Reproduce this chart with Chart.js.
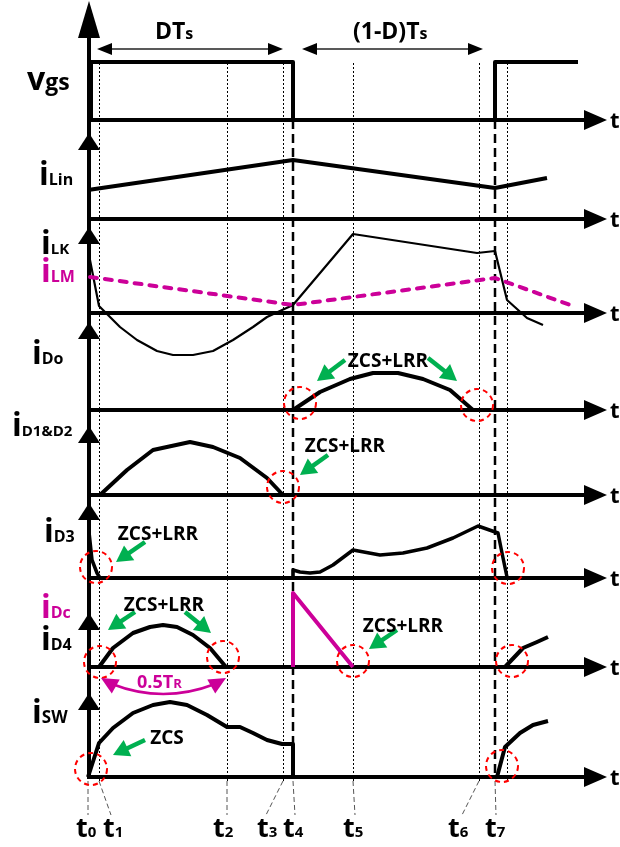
<!DOCTYPE html>
<html><head><meta charset="utf-8">
<script src="https://cdn.jsdelivr.net/npm/chart.js@4.4.1/dist/chart.umd.min.js"></script>
<style>html,body{margin:0;padding:0;background:#fff;overflow:hidden}#wrap{width:620px;height:847px;position:relative}</style>
</head><body><div id="wrap"><canvas id="c" width="620" height="847"></canvas></div>
<script>
// ================= DATA (time in drawing units, t0 = 0; values = height above each trace's zero line) =================
const timeSubs  = ['0','1','2','3','4','5','6','7'];
const timeMarks = [0, 11, 139, 195, 205, 265, 391, 407];
const nextT1 = 419;

const vgsT  = [0, 3, 3, 205, 205, 407, 407, 490];
const vgsV  = [0, 0, 58, 58, 0, 0, 58, 58];
const iLinT = [0, 205, 407, 459];
const iLinV = [29, 59, 31, 41];
const iLkT  = [1, 11, 32, 49, 69, 85, 105, 125, 145, 165, 179, 205, 265, 389, 407, 419, 439, 455];
const iLkV  = [58, 7, -14, -27, -38, -42, -42, -38, -27, -14, -4, 8, 79, 60, 62, 13, -5, -12];
const iLmT  = [2, 205, 407, 485];
const iLmV  = [36, 8, 35, 7];
const iDoT  = [205, 232, 262, 285, 310, 335, 362, 385];
const iDoV  = [0, 18, 31, 37, 37, 31, 20, 0];
const iD12T = [12, 39, 65, 102, 125, 152, 179, 195];
const iD12V = [0, 25, 45, 53, 48, 37, 17, 0];
const iD3aT = [1, 4, 9, 12];
const iD3aV = [46, 18, 5, 0];
const iD3bT = [205, 205, 212, 222, 232, 245, 265, 292, 315, 339, 365, 390, 410, 414, 419];
const iD3bV = [0, 8, 6, 5, 6, 13, 28, 23, 25, 30, 40, 52, 45, 25, 1];
const iDcT  = [205, 205, 265];
const iDcV  = [0, 74, 0];
const iD4aT = [11, 25, 45, 62, 75, 89, 105, 122, 138];
const iD4aV = [0, 19, 34, 40, 42, 40, 32, 19, 0];
const iD4bT = [417, 435, 449, 460];
const iD4bV = [0, 19, 25, 30];
const iSwaT = [0, 11, 25, 45, 65, 82, 99, 119, 139, 152, 165, 179, 194, 205, 205];
const iSwaV = [0, 34, 49, 64, 72, 75, 72, 62, 50, 50, 44, 37, 33, 33, 0];
const iSwbT = [409, 417, 432, 445, 460];
const iSwbV = [0, 30, 44, 52, 56];

// ================= LAYOUT / STYLE =================
const lanes = {vgs:120, iLin:219, iLK:313, iDo:410, iD12:495, iD3:578, iD4:667, iSW:777};
const BLACK = '#000', MAG = '#cc0099', GREEN = '#00b050', RED = '#ff0000';
const FONT = '"Open Sans", "DejaVu Sans", sans-serif';

function pts(ts, vs, lane){ return ts.map((t,i)=>({x:t, y: lane - vs[i]})); }
function ds(ts, vs, lane, color, width, dash){
  return {data: pts(ts, vs, lane), showLine:true, borderColor:color, backgroundColor:color,
    borderWidth:width, pointRadius:0, tension:0, fill:false, borderDash: dash || [],
    borderJoinStyle:'round', borderCapStyle: dash ? 'round' : 'butt'};
}

const datasets = [
  ds(vgsT, vgsV, lanes.vgs, BLACK, 4),
  ds(iLinT, iLinV, lanes.iLin, BLACK, 4),
  ds(iLmT, iLmV, lanes.iLK, MAG, 4, [7, 8]),
  ds(iLkT, iLkV, lanes.iLK, BLACK, 2.2),
  ds(iDoT, iDoV, lanes.iDo, BLACK, 4),
  ds(iD12T, iD12V, lanes.iD12, BLACK, 4),
  ds(iD3aT, iD3aV, lanes.iD3, BLACK, 3.5),
  ds(iD3bT, iD3bV, lanes.iD3, BLACK, 3.5),
  ds(iD4aT, iD4aV, lanes.iD4, BLACK, 4),
  ds(iD4bT, iD4bV, lanes.iD4, BLACK, 4),
  ds(iDcT, iDcV, lanes.iD4, MAG, 4),
  ds(iSwaT, iSwaV, lanes.iSW, BLACK, 4),
  ds(iSwbT, iSwbV, lanes.iSW, BLACK, 4)
];

const upArrowTips = [133, 227, 322, 426, 503, 613, 693];
const circles = [[300,403],[477,405],[283,487],[96,567],[508,568],[100,662],[223,657],[353,661],[512,661],[91,769],[502,766]];
const greenArrows = [[345,360,317,381],[428,358,457,381],[328,455,300,475],[145,542,116,562],[135,612,108,630],[185,612,211,633],[397,630,369,649],[145,740,113,755]];
const notes = [['ZCS+LRR',388,367],['ZCS+LRR',345,452],['ZCS+LRR',158,540],['ZCS+LRR',164,611],['ZCS+LRR',403,632],['ZCS',167,744]];
const timeLabelX = [76, 103, 213, 257, 283, 343, 448, 485];
const connBottom = [[0,815],[12,815],[0,815],[-17,815],[2,815],[2,815],[-17,815],[1,815]];
const leftLabels = [
  ['v',32,'gs',23,27,90,BLACK],
  ['i',32,'Lin',16,39,185,BLACK],
  ['i',32,'LK',15,41,254,BLACK],
  ['i',32,'LM',16,41,282,MAG],
  ['i',32,'Do',16,32,364,BLACK],
  ['i',32,'D1&D2',15,12,436,BLACK],
  ['i',32,'D3',16,44,542,BLACK],
  ['i',32,'Dc',16,41,618,MAG],
  ['i',32,'D4',16,41,650,BLACK],
  ['i',32,'SW',17,32,723,BLACK]
];

function sub(ctx, x, y, main, ms, s, ss, color){
  ctx.fillStyle = color; ctx.textAlign='left'; ctx.textBaseline='alphabetic';
  ctx.font = `bold ${ms}px ${FONT}`; ctx.fillText(main, x, y);
  const w = ctx.measureText(main).width;
  ctx.font = `bold ${ss}px ${FONT}`; ctx.fillText(s, x + w, y);
}
function tri(ctx, tipX, tipY, ang, len, half, color){
  ctx.fillStyle = color; ctx.beginPath();
  const bx = tipX - Math.cos(ang)*len, by = tipY - Math.sin(ang)*len;
  ctx.moveTo(tipX, tipY);
  ctx.lineTo(bx + Math.sin(ang)*half, by - Math.cos(ang)*half);
  ctx.lineTo(bx - Math.sin(ang)*half, by + Math.cos(ang)*half);
  ctx.closePath(); ctx.fill();
}
function line(ctx, x1, y1, x2, y2, w, color, dash){
  ctx.save(); ctx.strokeStyle = color; ctx.lineWidth = w; ctx.setLineDash(dash || []);
  ctx.beginPath(); ctx.moveTo(x1, y1); ctx.lineTo(x2, y2); ctx.stroke(); ctx.restore();
}

const overlay = {
  id: 'overlay',
  beforeDatasetsDraw(chart){
    const ctx = chart.ctx, X = v => chart.scales.x.getPixelForValue(v);
    ctx.save();
    [timeMarks[1], timeMarks[2], timeMarks[3], timeMarks[5], timeMarks[6], nextT1].forEach(t => {
      const x = Math.round(X(t)) + 0.5;
      line(ctx, x, 63, x, 781, 1, BLACK, [2, 2]);
    });
    [timeMarks[4], timeMarks[7]].forEach(t => line(ctx, X(t), 120, X(t), 777, 2.5, BLACK, [9, 5]));
    timeMarks.forEach((t, i) => {
      line(ctx, X(t), 781, X(t) + connBottom[i][0], connBottom[i][1], 1, '#555', [5, 3]);
    });
    const ax = X(0) + 1;
    Object.values(lanes).forEach(y => {
      line(ctx, ax, y, 590, y, 4, BLACK);
      tri(ctx, 607, y, 0, 23, 10, BLACK);
    });
    line(ctx, ax, 20, ax, 779, 4, BLACK);
    tri(ctx, ax, 1, -Math.PI/2, 37, 11, BLACK);
    upArrowTips.forEach(y => tri(ctx, ax, y, -Math.PI/2, 17, 11, BLACK));
    ctx.restore();
  },
  afterDatasetsDraw(chart){
    const ctx = chart.ctx;
    ctx.save();
    ctx.strokeStyle = RED; ctx.lineWidth = 2; ctx.setLineDash([5, 4]);
    circles.forEach(([x, y]) => { ctx.beginPath(); ctx.arc(x, y, 16, 0, Math.PI*2); ctx.stroke(); });
    ctx.setLineDash([]);
    greenArrows.forEach(([x1, y1, x2, y2]) => {
      const a = Math.atan2(y2 - y1, x2 - x1);
      line(ctx, x1, y1, x2 - Math.cos(a)*10, y2 - Math.sin(a)*10, 4.5, GREEN);
      tri(ctx, x2, y2, a, 16, 9, GREEN);
    });
    ctx.fillStyle = BLACK; ctx.textAlign = 'center'; ctx.textBaseline = 'alphabetic';
    ctx.font = `bold 19px ${FONT}`;
    notes.forEach(([s, x, y]) => ctx.fillText(s, x, y));
    ctx.strokeStyle = MAG; ctx.lineWidth = 2.5;
    ctx.beginPath(); ctx.moveTo(112, 684); ctx.quadraticCurveTo(163, 704, 215, 684); ctx.stroke();
    tri(ctx, 101, 678, Math.atan2(678 - 686, 101 - 115), 17, 8, MAG);
    tri(ctx, 226, 678, Math.atan2(678 - 686, 226 - 212), 17, 8, MAG);
    sub(ctx, 137, 688, '0.5T', 18, 'R', 13, MAG);
    line(ctx, 108, 49, 272, 49, 1.5, '#222');
    tri(ctx, 97, 49, Math.PI, 15, 6, BLACK); tri(ctx, 283, 49, 0, 15, 6, BLACK);
    line(ctx, 313, 49, 472, 49, 1.5, '#222');
    tri(ctx, 302, 49, Math.PI, 15, 6, BLACK); tri(ctx, 483, 49, 0, 15, 6, BLACK);
    sub(ctx, 155, 39, 'DT', 23, 's', 16, BLACK);
    sub(ctx, 353, 39, '(1-D)T', 23, 's', 16, BLACK);
    leftLabels.forEach(([m, ms, s, ss, x, y, c]) => sub(ctx, x, y, m, ms, s, ss, c));
    ctx.fillStyle = BLACK; ctx.textAlign = 'left'; ctx.font = `bold 22px ${FONT}`;
    Object.values(lanes).forEach(y => ctx.fillText('t', 610, y + 8));
    timeSubs.forEach((s, i) => sub(ctx, timeLabelX[i], 837, 't', 27, s, 15, BLACK));
    ctx.restore();
  }
};

new Chart(document.getElementById('c'), {
  type: 'scatter',
  data: { datasets },
  options: {
    responsive: false, animation: false, devicePixelRatio: 1,
    layout: { padding: 0 },
    plugins: { legend: { display: false }, tooltip: { enabled: false } },
    scales: {
      x: { type: 'linear', min: -88, max: 532, display: false },
      y: { type: 'linear', min: 0, max: 847, reverse: true, display: false }
    }
  },
  plugins: [overlay]
});
</script></body></html>
